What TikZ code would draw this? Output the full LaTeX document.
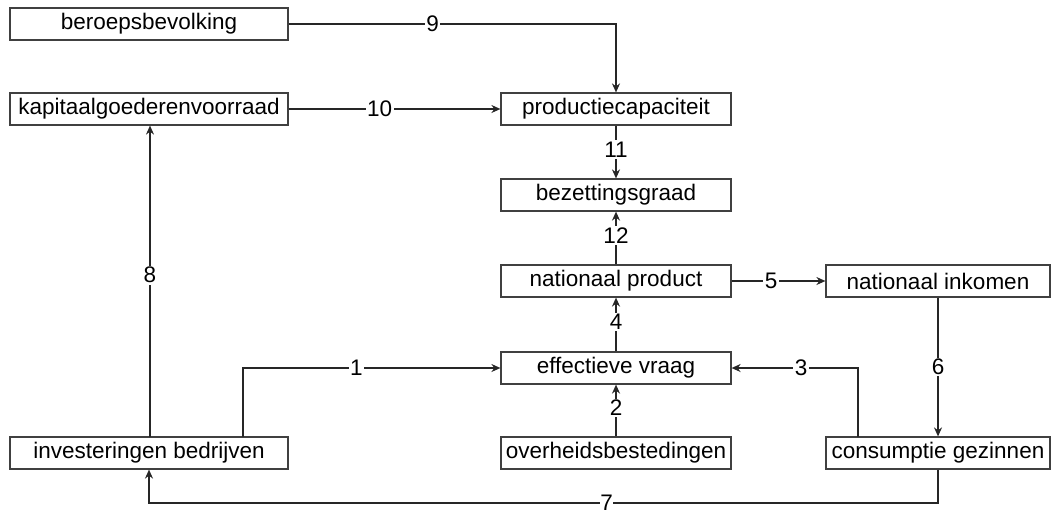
\documentclass[tikz,border=0pt]{standalone}
\usepackage{fontspec}
\setmainfont{Liberation Sans}
\usetikzlibrary{arrows.meta}
\begin{document}
\begin{tikzpicture}[x=1pt,y=-1pt,
  box/.style={draw=black!75,line width=1.2pt,minimum height=32pt,inner sep=0pt,
    font=\fontsize{22.5}{24}\selectfont},
  wbox/.style={box,minimum width=278pt},
  mbox/.style={box,minimum width=230pt},
  rbox/.style={box,minimum width=224pt},
  conn/.style={line width=2.1pt,draw=black!85,-{Stealth[length=9pt,width=8pt]}},
  lab/.style={fill=white,inner sep=1.5pt,font=\fontsize{22.5}{24}\selectfont}]
\useasboundingbox (0,0) rectangle (1051,515);
\node[wbox] (ber) at (149,24) {beroepsbevolking};
\node[wbox] (kap) at (149,109) {kapitaalgoederenvoorraad};
\node[mbox] (prod) at (616,109) {productiecapaciteit};
\node[mbox] (bez) at (616,195) {bezettingsgraad};
\node[mbox] (np) at (616,281) {nationaal product};
\node[rbox] (ni) at (938,281) {nationaal inkomen};
\node[mbox] (ev) at (616,368) {effectieve vraag};
\node[mbox] (ov) at (616,453) {overheidsbestedingen};
\node[wbox] (inv) at (149,453) {investeringen bedrijven};
\node[rbox] (cg) at (938,453) {consumptie gezinnen};
% 9
\coordinate (c9) at (prod.north |- ber.east);
\draw[conn] (ber.east) -- node[lab,pos=0.44]{9} (c9) -- (prod.north);
% 10
\draw[conn] (kap.east) -- node[lab,pos=0.43]{10} (prod.west);
% 11
\draw[conn] (prod.south) -- node[lab,pos=0.45]{11} (bez.north);
% 12
\draw[conn] (np.north) -- node[lab,pos=0.55]{12} (bez.south);
% 4
\draw[conn] (ev.north) -- node[lab,pos=0.55]{4} (np.south);
% 2
\draw[conn] (ov.north) -- node[lab,pos=0.55]{2} (ev.south);
% 5
\draw[conn] (np.east) -- node[lab,pos=0.42]{5} (ni.west);
% 6
\draw[conn] (ni.south) -- node[lab,pos=0.5]{6} (cg.north);
% 3
\coordinate (s3) at (858,437);
\coordinate (c3) at (858,368);
\draw[conn] (s3) -- (c3) -- node[lab,pos=0.45]{3} (ev.east);
% 1
\coordinate (s1) at (243,437);
\coordinate (c1) at (243,368);
\draw[conn] (s1) -- (c1) -- node[lab,pos=0.44]{1} (ev.west);
% 8
\coordinate (s8) at (150,437);
\draw[conn] (s8) -- node[lab,pos=0.52]{8} (kap.south -| s8);
% 7
\coordinate (c7a) at (cg.south |- 0,503);
\coordinate (c7b) at (inv.south |- 0,503);
\draw[conn] (cg.south) -- (c7a) -- node[lab,inner sep=0pt,pos=0.42]{7} (c7b) -- (inv.south);
\end{tikzpicture}
\end{document}
